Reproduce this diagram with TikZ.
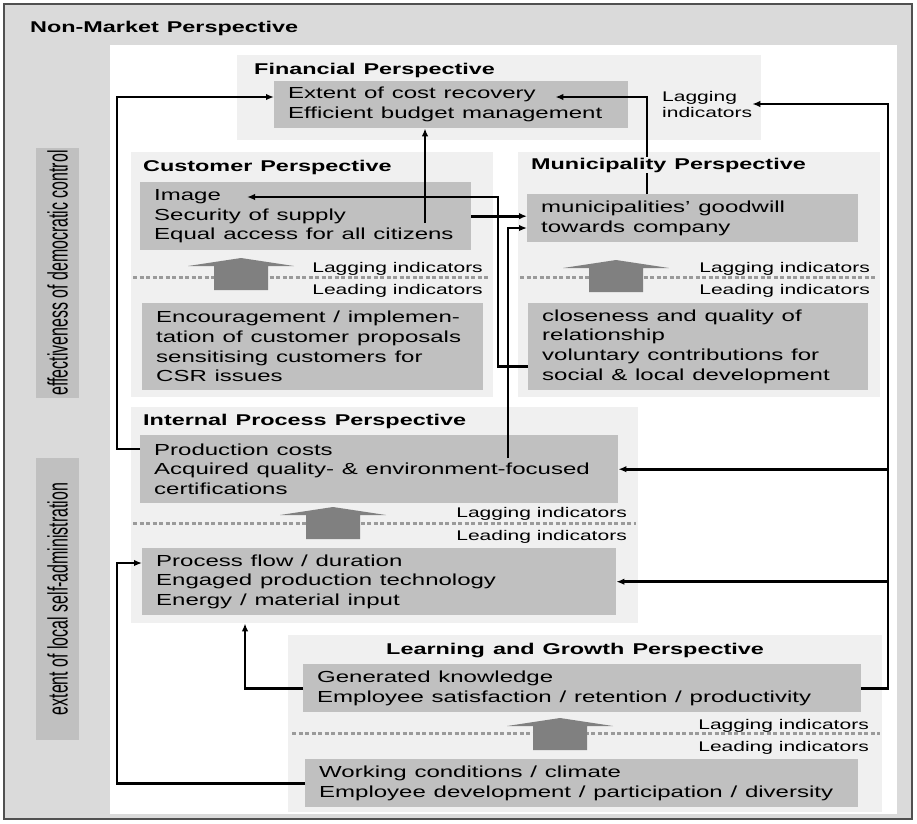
\documentclass[tikz,border=0pt]{standalone}
\usepackage{fontspec}
\setmainfont{Liberation Sans}[FakeStretch=1.5]
\newfontfamily\sidefont{Liberation Sans}[FakeStretch=0.57]
\usetikzlibrary{calc,arrows.meta}

\definecolor{outergray}{HTML}{DADADA}
\definecolor{panelgray}{HTML}{F0F0F0}
\definecolor{boxgray}{HTML}{C0C0C0}
\definecolor{arrowgray}{HTML}{808080}
\definecolor{dotgray}{HTML}{9A9A9A}
\definecolor{framegray}{HTML}{505050}

\newcommand\kpispace{\spaceskip 7.8pt plus 1pt\relax}
\newcommand\titlefont{\bfseries\fontsize{15.6}{18}\selectfont\spaceskip 8pt\relax}

% wide grey up arrow between lagging and leading indicators
\def\bigup(#1,#2){\fill[arrowgray] (#1-53,#2+8) -- (#1,#2) -- (#1+53,#2+8) -- (#1+27,#2+8) -- (#1+27,#2+32) -- (#1-27,#2+32) -- (#1-27,#2+8) -- cycle;}

\tikzset{
	kpibox/.style={fill=boxgray, anchor=north west, inner xsep=14pt, inner ysep=0pt, align=left, font=\fontsize{16}{19.7}\selectfont, execute at begin node=\kpispace},
	ptitle/.style={font=\titlefont, anchor=base west, inner sep=1pt, fill=panelgray},
	indic/.style={font=\fontsize{14}{16}\selectfont, anchor=base east, inner sep=0pt},
	dotline/.style={dotgray, line width=3pt, dash pattern=on 4pt off 2.5pt},
	conn/.style={line width=2.8pt, -{Latex[length=8pt,width=6.5pt]}},
	sidebox/.style={fill=boxgray, rotate=90, inner sep=0pt, font=\sidefont\fontsize{28}{30}\selectfont},
}

\begin{document}
\begin{tikzpicture}[x=1pt,y=-1pt]
		\useasboundingbox (0,0) rectangle (917,823);
		%%%%% START %%%%%
		
		\draw[fill=outergray, draw=framegray, line width=1.5pt] (4,4) rectangle (912,819);
		\fill[white] (110,45) rectangle (897,814);
		\node[font=\titlefont, anchor=base west, inner sep=0pt] (nonmarket) at (30,32) {Non-Market Perspective};
		
		\node[sidebox, minimum width=250pt, minimum height=43pt] (democ) at (57.5,273) {effectiveness of democratic control};
		\node[sidebox, minimum width=282pt, minimum height=43pt] (selfadm) at (57.5,599) {extent of local self-administration};
		
		% perspectives
		\fill[panelgray] (237,55) rectangle (761,140);
		\fill[panelgray] (131,152) rectangle (493,397);
		\fill[panelgray] (518,152) rectangle (880,397);
		\fill[panelgray] (131,407) rectangle (638,623);
		\fill[panelgray] (288,635) rectangle (882,812);
		
		\node[kpibox, text width=326pt, minimum height=47pt] (fin) at (274,81) {Extent of cost recovery\\Efficient budget management};
		\node[kpibox, text width=303pt, minimum height=68pt] (cpt) at (140,182) {Image\\Security of supply\\Equal access for all citizens};
		\node[kpibox, text width=313pt, minimum height=87pt] (cpb) at (142,303) {Encouragement / implemen-\\tation of customer proposals\\sensitising customers for\\CSR issues};
		\node[kpibox, text width=303pt, minimum height=48pt] (mpt) at (527,194) {municipalities' goodwill\\towards company};
		\node[kpibox, text width=312pt, minimum height=87pt] (mpb) at (528,303) {closeness and quality of\\relationship\\voluntary contributions for\\social \& local development};
		\node[kpibox, text width=450pt, minimum height=68pt] (ipt) at (140,435) {Production costs\\Acquired quality- \& environment-focused\\certifications};
		\node[kpibox, text width=446pt, minimum height=67pt] (ipb) at (142,548) {Process flow / duration\\Engaged production technology\\Energy / material input};
		\node[kpibox, text width=530pt, minimum height=48pt] (lgt) at (303,664) {Generated knowledge\\Employee satisfaction / retention / productivity};
		\node[kpibox, text width=525pt, minimum height=48pt] (lgb) at (305,759) {Working conditions / climate\\Employee development / participation / diversity};
		
		% lagging / leading split
		\draw[dotline] (133,277) -- (490,277);
		\draw[dotline] (520,277) -- (877,277);
		\draw[dotline] (133,523) -- (636,523);
		\draw[dotline] (292,733) -- (880,733);
		
		\bigup(241,258)
		\bigup(616,260)
		\bigup(333,507)
		\bigup(560,718)
		
		\node[indic] (lagcus) at (483,272) {Lagging indicators};
		\node[indic] (leadcus) at (483,294) {Leading indicators};
		\node[indic] (lagmun) at (870,272) {Lagging indicators};
		\node[indic] (leadmun) at (870,294) {Leading indicators};
		\node[indic] (lagint) at (627,517) {Lagging indicators};
		\node[indic] (leadint) at (627,540) {Leading indicators};
		\node[indic] (laglg) at (869,729) {Lagging indicators};
		\node[indic] (leadlg) at (869,751) {Leading indicators};
		\node[font=\fontsize{14}{16}\selectfont, align=left, anchor=west, inner sep=0pt] (lagfin) at (662,104) {Lagging\\indicators};
		
		% cause and effect links
		\coordinate (railL) at (117,0);
		\coordinate (railR) at (888,0);
		
		\coordinate (a0) at ($(ipt.north west)+(0,14)$);
		\coordinate (a1) at ($(fin.north west)+(0,16)$);
		\draw[conn] (a0) -| (railL |- a1) -- (a1);
		
		\coordinate (b0) at ($(cpt.north west)+(285,41)$);
		\draw[conn] (b0) -- (b0 |- fin.south);
		
		\coordinate (c0) at ($(mpt.north west)+(120,0)$);
		\coordinate (c1) at ($(fin.north east)+(-73,16)$);
		\draw[conn] (c0) |- (c1);
		
		\draw[conn] (lgt.east) -| (railR |- lagfin.east) -- (lagfin.east);
		\draw[conn] (railR |- ipt.east) -- (ipt.east);
		\draw[conn] (railR |- ipb.east) -- (ipb.east);
		
		\draw[conn] (cpt.east) -- (cpt.east -| mpt.west);
		
		\coordinate (f0) at ($(mpb.west)+(0,20)$);
		\coordinate (f1) at ($(cpt.north west)+(107,15)$);
		\draw[conn] (f0) -- ++(-30,0) |- (f1);
		
		\coordinate (g0) at ($(ipt.north west)+(368,23)$);
		\coordinate (g1) at ($(mpt.north west)+(0,34)$);
		\draw[conn] (g0) |- (g1);
		
		\coordinate (h1) at ($(ipb.south west)+(103,8)$);
		\draw[conn] (lgt.west) -| (h1);
		
		\coordinate (i1) at ($(ipb.north west)+(0,15)$);
		\draw[conn] (lgb.west) -| (railL |- i1) -- (i1);
		
		% titles on top of the links
		\node[ptitle] (fintitle) at (253,74) {Financial Perspective};
		\node[ptitle] (custitle) at (142,171) {Customer Perspective};
		\node[ptitle] (muntitle) at (530,169) {Municipality Perspective};
		\node[ptitle] (inttitle) at (142,425) {Internal Process Perspective};
		\node[ptitle] (lgtitle) at (385,654) {Learning and Growth Perspective};
		
		%%%%% END %%%%%
\end{tikzpicture}
\end{document}
